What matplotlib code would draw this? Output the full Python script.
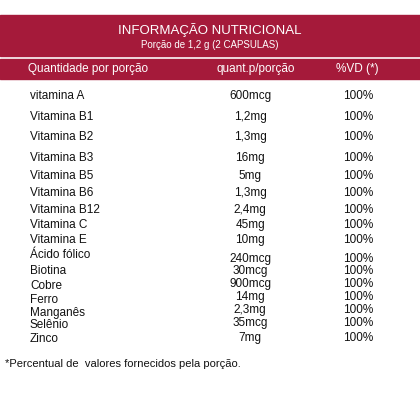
import matplotlib
matplotlib.use("Agg")
import matplotlib.pyplot as plt
from matplotlib.patches import Rectangle

plt.rcParams['font.family'] = ['Liberation Sans', 'DejaVu Sans']

nutrients = ["vitamina A", "Vitamina B1", "Vitamina B2", "Vitamina B3", "Vitamina B5", "Vitamina B6",
             "Vitamina B12", "Vitamina C", "Vitamina E", "Ácido fólico", "Biotina", "Cobre", "Ferro",
             "Manganês", "Selênio", "Zinco"]
amounts = ["600mcg", "1,2mg", "1,3mg", "16mg", "5mg", "1,3mg", "2,4mg", "45mg", "10mg", "240mcg",
           "30mcg", "900mcg", "14mg", "2,3mg", "35mcg", "7mg"]
pct_vd = ["100%"] * 16
name_y = [96, 117, 137, 158, 176, 193, 210, 225, 240, 255, 271, 286, 300, 313, 325, 339]
amt_y = [96, 117, 137, 158, 176, 193, 210, 225, 240, 259, 271, 284, 297, 310, 323, 338]

RED = "#A51A3A"
fig = plt.figure(figsize=(4.2, 4.2), dpi=100)
ax = fig.add_axes([0, 0, 1, 1])
ax.set_xlim(0, 420); ax.set_ylim(420, 0); ax.axis("off")
ax.add_patch(Rectangle((0, 15), 420, 41, color=RED))
ax.add_patch(Rectangle((0, 59), 420, 20, color=RED))
ax.text(210, 30, "INFORMAÇÃO NUTRICIONAL", color="white", ha="center", va="center", fontsize=9.5)
ax.text(210, 45, "Porção de 1,2 g (2 CAPSULAS)", color="white", ha="center", va="center", fontsize=7)
ax.text(28, 69, "Quantidade por porção", color="white", ha="left", va="center", fontsize=8.5)
ax.text(256, 69, "quant.p/porção", color="white", ha="center", va="center", fontsize=8.5)
ax.text(357, 69, "%VD (*)", color="white", ha="center", va="center", fontsize=8.5)
for n, a, p, y1, y2 in zip(nutrients, amounts, pct_vd, name_y, amt_y):
    ax.text(30, y1, n, ha="left", va="center", fontsize=8.5, color="#111")
    ax.text(250, y2, a, ha="center", va="center", fontsize=8.5, color="#111")
    ax.text(358, y2, p, ha="center", va="center", fontsize=8.5, color="#111")
ax.text(5, 364, "*Percentual de  valores fornecidos pela porção.", ha="left", va="center", fontsize=8, color="#111")
fig.savefig("out.png", dpi=100)
